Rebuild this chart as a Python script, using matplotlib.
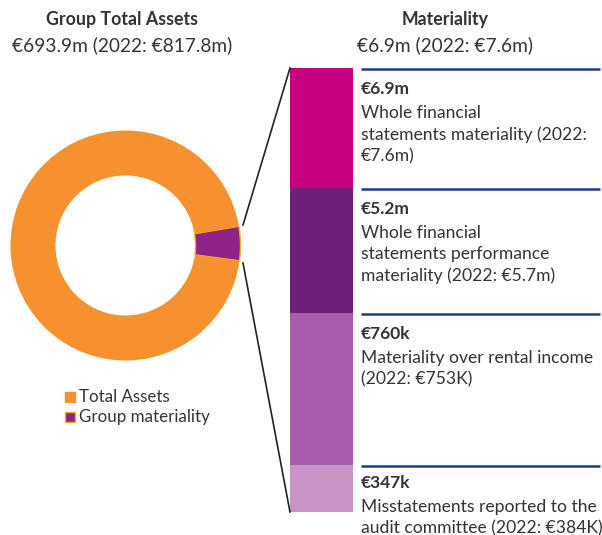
import matplotlib.pyplot as plt

plt.rcParams['font.family'] = ['Lato', 'DejaVu Sans']

# donut data
donut_labels = ["Group materiality", "Total Assets"]
donut_values = [4.8, 95.2]
donut_colors = ["#8E2388", "#F5922F"]

# materiality bar data (segment heights as drawn)
seg_values = [6.9, 5.2, 760, 347]
seg_heights = [120, 125, 152, 47]
seg_colors = ["#C6007E", "#6E1F78", "#A85CAB", "#C993C6"]
seg_titles = ["€6.9m", "€5.2m", "€760k", "€347k"]
seg_texts = [
    "Whole financial\nstatements materiality (2022:\n€7.6m)",
    "Whole financial\nstatements performance\nmateriality (2022: €5.7m)",
    "Materiality over rental income\n(2022: €753K)",
    "Misstatements reported to the\naudit committee (2022: €384K)",
]

txt = "#333333"
blue = "#1D3A8F"

fig = plt.figure(figsize=(6.02, 5.35), dpi=100)
ax = fig.add_axes([0, 0, 1, 1])

# donut
cx, cy, r_out, r_in = 125.5, 245.5, 115, 70
start = -donut_values[0] / sum(donut_values) * 360 / 2 - 1
wedges, _ = ax.pie(donut_values, colors=donut_colors, center=(cx, cy), radius=r_out,
                   startangle=start, counterclock=True, frame=True,
                   wedgeprops=dict(width=r_out - r_in, linewidth=0))
wedges[0].set_edgecolor("#F2B21B")
wedges[0].set_linewidth(1.0)
ax.set_xlim(0, 602)
ax.set_ylim(535, 0)
ax.axis("off")

# stacked bar
bar_x, bar_w, bar_top = 290, 63, 68
bottoms = [bar_top]
for h in seg_heights[:-1]:
    bottoms.append(bottoms[-1] + h)
ax.bar([bar_x] * 4, seg_heights, bottom=bottoms, width=bar_w, align="edge",
       color=seg_colors, linewidth=0)
bar_bottom = bottoms[-1] + seg_heights[-1]

# connector lines
ax.plot([243, bar_x], [225, bar_top], color="#222222", lw=1.2)
ax.plot([243, bar_x], [263, bar_bottom], color="#222222", lw=1.2)

# annotations
for i, (top, title, body) in enumerate(zip(bottoms, seg_titles, seg_texts)):
    ax.plot([361, 600], [top + 1, top + 1], color=blue, lw=1.8, solid_capstyle="butt")
    dy = -3 if i == len(bottoms) - 1 else 0
    ax.text(361, top + 13 + dy, title, fontsize=12.5, fontweight="bold", color=txt, va="top")
    ax.text(361, top + 37 + dy, body, fontsize=12.6, color=txt, va="top", linespacing=1.4)

# headings
ax.text(122, 20, "Group Total Assets", ha="center", va="center", fontsize=12.8,
        fontweight="bold", color=txt)
ax.text(122, 45, "€693.9m (2022: €817.8m)", ha="center", va="center", fontsize=13.8, color=txt)
ax.text(445, 20, "Materiality", ha="center", va="center", fontsize=12.8,
        fontweight="bold", color=txt)
ax.text(445, 45, "€6.9m (2022: €7.6m)", ha="center", va="center", fontsize=13.8, color=txt)

# legend
for i, (lab, col) in enumerate(zip(donut_labels[::-1], donut_colors[::-1])):
    y = 397 + 20 * i
    ec = "#F2B21B" if lab == "Group materiality" else col
    ax.scatter([70], [y], marker="s", s=60, color=col, edgecolor=ec, linewidth=1)
    ax.text(79, y, lab, fontsize=12.2, color=txt, va="center")

fig.savefig("out.png", dpi=100)
